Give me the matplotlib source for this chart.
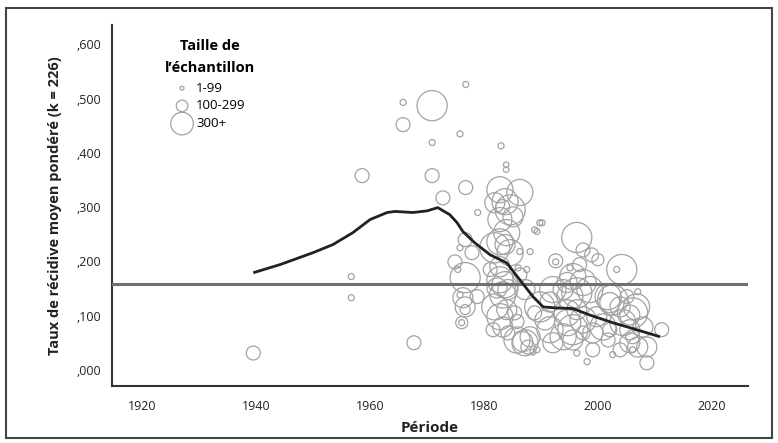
import matplotlib
matplotlib.use("Agg")
import matplotlib.pyplot as plt
from matplotlib.patches import Rectangle
from matplotlib.ticker import FuncFormatter

plt.rcParams['font.family'] = ['Open Sans', 'DejaVu Sans']

# études : année, taux de récidive, taille d'échantillon
annees = [1939.5, 1956.7, 1956.7, 1967.7, 1958.6, 1976.8, 1965.8, 1970.9, 1965.8, 1975.8,
          1970.9, 1983.0, 1983.9, 1983.9, 1970.9, 1976.8, 1972.8,
          1982.8, 1986.3, 1983.7, 1981.9, 1984.6, 1982.8, 1985.1, 1983.3, 1978.9, 1989.8, 1988.9,
          1984.0, 1982.8, 1983.7, 1981.9, 1984.6, 1986.3, 1988.1, 1976.7, 1975.8, 1977.9, 1974.9,
          1992.6, 1992.6, 1987.5, 1986.0, 1982.8, 1981.1, 1976.7, 1975.4,
          1982.8, 1983.7, 1982.3, 1984.2, 1983.3, 1976.3, 1978.8, 1975.8, 1976.7, 1976.7, 1976.1,
          1976.1, 1989.8, 1991.6, 1988.9, 1981.9, 1984.0, 1982.8, 1985.4, 1985.8, 1983.3, 1984.2,
          1985.8, 1987.2, 1988.1, 1989.3, 1988.6, 1987.7, 1991.6, 1992.1, 1986.8, 1981.6,
          1996.3, 1997.4, 1998.9, 2000.0, 1996.8, 1995.1, 2004.2, 2003.3, 1995.6, 1997.4, 1994.6,
          1998.6, 1996.3, 1995.1, 1993.9, 2001.8, 2002.1, 2003.9, 2005.1, 2007.0, 2006.8, 2005.6,
          1994.6, 1996.3, 1997.4, 1994.7, 1995.6, 1993.9, 1995.6, 1997.4, 1999.8, 2000.9, 1999.1,
          2002.1, 2001.8, 2004.4, 2005.6, 2006.1, 2005.6, 2007.0, 2006.1, 2008.6, 2007.9, 2011.2,
          2008.6, 1998.1, 1996.3, 1999.1, 2003.9, 2002.6, 2002.6, 2006.1, 1990.2, 1989.3,
          1992.1, 1990.7, 1987.2, 1986.3]
taux = [0.031, 0.172, 0.133, 0.050, 0.358, 0.526, 0.493, 0.487, 0.452, 0.435,
        0.419, 0.413, 0.378, 0.369, 0.358, 0.336, 0.317,
        0.332, 0.327, 0.310, 0.308, 0.295, 0.277, 0.282, 0.301, 0.290, 0.271, 0.258,
        0.253, 0.236, 0.231, 0.225, 0.216, 0.218, 0.218, 0.240, 0.225, 0.216, 0.199,
        0.201, 0.199, 0.185, 0.188, 0.190, 0.185, 0.170, 0.185,
        0.166, 0.157, 0.151, 0.148, 0.138, 0.133, 0.135, 0.138, 0.116, 0.111, 0.087,
        0.087, 0.116, 0.125, 0.105, 0.116, 0.111, 0.098, 0.105, 0.089, 0.079, 0.068,
        0.055, 0.050, 0.061, 0.037, 0.033, 0.042, 0.074, 0.050, 0.052, 0.074,
        0.244, 0.221, 0.212, 0.203, 0.194, 0.188, 0.185, 0.185, 0.172, 0.161, 0.161,
        0.148, 0.142, 0.135, 0.148, 0.135, 0.124, 0.116, 0.135, 0.144, 0.116, 0.101,
        0.105, 0.111, 0.092, 0.087, 0.074, 0.061, 0.055, 0.068, 0.098, 0.079, 0.068,
        0.074, 0.055, 0.087, 0.074, 0.061, 0.050, 0.042, 0.037, 0.042, 0.079, 0.074,
        0.013, 0.015, 0.031, 0.037, 0.037, 0.028, 0.129, 0.105, 0.271, 0.255,
        0.148, 0.092, 0.148, 0.175]
tailles = [160, 30, 30, 160, 160, 30, 30, 750, 160, 30,
           30, 30, 25, 25, 160, 160, 160,
           560, 560, 560, 330, 745, 475, 330, 160, 30, 30, 30,
           560, 560, 330, 745, 560, 30, 30, 160, 30, 160, 160,
           160, 30, 30, 30, 330, 160, 745, 30,
           560, 560, 330, 330, 560, 330, 160, 30, 330, 83, 120,
           30, 745, 330, 160, 560, 330, 560, 160, 160, 330, 160,
           560, 560, 330, 30, 30, 160, 560, 330, 330, 160,
           745, 160, 160, 120, 160, 30, 745, 30, 560, 560, 330,
           560, 745, 560, 330, 560, 330, 330, 160, 30, 560, 330,
           560, 330, 560, 560, 745, 560, 330, 160, 330, 560, 330,
           160, 160, 560, 330, 160, 330, 330, 30, 330, 330, 160,
           160, 30, 30, 160, 160, 30, 745, 745, 30, 30,
           560, 330, 330, 160]

# courbe lissée
courbe_annees = [1939.5, 1944.2, 1950.0, 1953.5, 1957.0, 1960.0, 1963.0, 1964.4, 1967.5, 1970.0,
                 1971.9, 1974.0, 1975.3, 1976.3, 1978.4, 1981.1, 1984.0, 1986.3, 1988.6, 1990.4,
                 1992.8, 1995.6, 1998.6, 2002.6, 2006.8, 2010.9]
courbe_taux = [0.179, 0.194, 0.216, 0.231, 0.253, 0.277, 0.290, 0.292, 0.290, 0.293,
               0.299, 0.286, 0.271, 0.255, 0.234, 0.212, 0.197, 0.166, 0.135, 0.116,
               0.114, 0.113, 0.101, 0.087, 0.074, 0.061]
moyenne = 0.159

legende_labels = ['1-99', '100-299', '300+']
legende_tailles = [12, 110, 420]

fig = plt.figure(figsize=(7.78, 4.43), dpi=100)
ax = fig.add_axes([0.144, 0.129, 0.817, 0.815])

ech = 0.63
ax.scatter(annees, taux, s=[t * ech for t in tailles], facecolors='none',
           edgecolors='#a3a3a3', linewidths=0.9, zorder=2)
ax.axhline(moyenne, color='#707070', lw=2.2, zorder=3)
ax.plot(courbe_annees, courbe_taux, color='#222222', lw=2.0, zorder=4,
        solid_capstyle='butt')

ax.set_xlim(1914.7, 2026.3)
ax.set_ylim(-0.0295, 0.636)
ax.set_xticks([1920, 1940, 1960, 1980, 2000, 2020])
ax.set_yticks([0, 0.1, 0.2, 0.3, 0.4, 0.5, 0.6])
ax.yaxis.set_major_formatter(FuncFormatter(lambda v, p: ',%03d' % round(v * 1000)))
ax.tick_params(length=0, labelsize=9, colors='#222222', pad=8)
ax.tick_params(axis='x', pad=10)
for s in ['top', 'right']:
    ax.spines[s].set_visible(False)
for s in ['left', 'bottom']:
    ax.spines[s].set_color('#333333')
    ax.spines[s].set_linewidth(1.5)

ax.set_xlabel('Période', fontsize=11, fontweight='bold', color='#222222', labelpad=6)
ax.set_ylabel('Taux de récidive moyen pondéré (k = 226)', fontsize=10.5,
              fontweight='bold', color='#222222', labelpad=10)

# légende manuelle
fig.text(0.27, 0.897, 'Taille de', ha='center', va='center', fontsize=10.5, fontweight='bold')
fig.text(0.27, 0.846, 'l\u2019échantillon', ha='center', va='center', fontsize=10.5, fontweight='bold')
for i, (lab, t) in enumerate(zip(legende_labels, legende_tailles)):
    yy = 0.801 - i * 0.040
    fig.text(0.252, yy, lab, ha='left', va='center', fontsize=9.5)
    ax.scatter([0.234], [yy], s=t * ech, facecolors='none', edgecolors='#a3a3a3',
               linewidths=0.9, transform=fig.transFigure, clip_on=False)

fig.patches.append(Rectangle((0.008, 0.011), 0.984, 0.972, transform=fig.transFigure,
                             fill=False, edgecolor='#444444', lw=1.5))

fig.savefig('out.png', dpi=100)
